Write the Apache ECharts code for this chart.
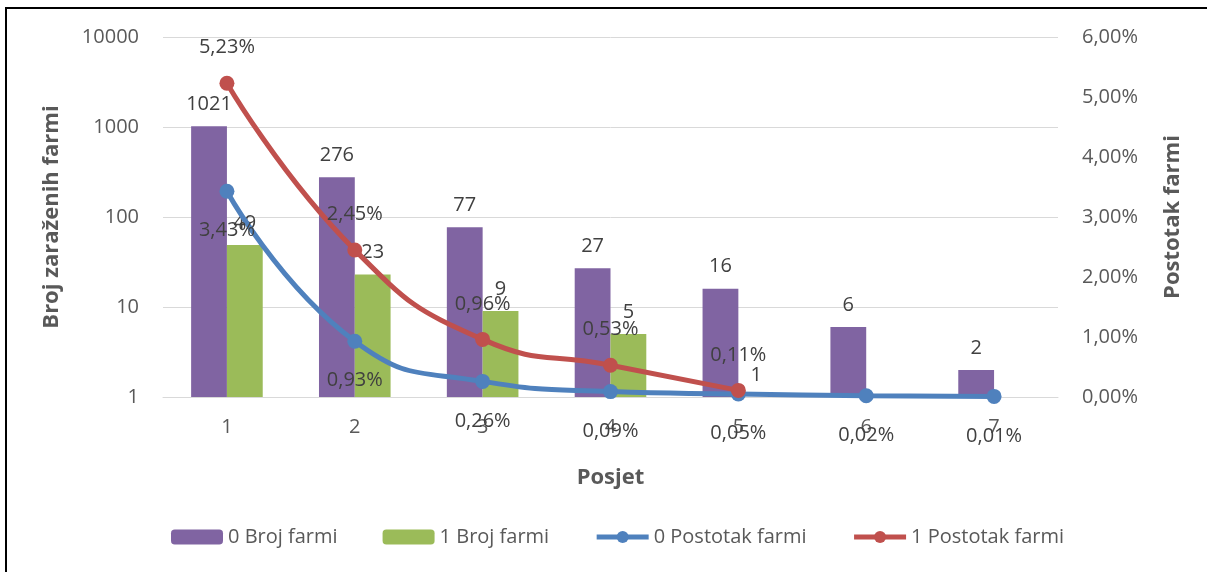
<!DOCTYPE html>
<html>
<head>
<meta charset="utf-8">
<script src="https://cdn.jsdelivr.net/npm/echarts@6/dist/echarts.min.js"></script>
<style>
  html, body { margin: 0; padding: 0; background: #fff; }
  #frame { position: absolute; left: 5px; top: 7px; width: 1210px; height: 580px;
           border-left: 2px solid #000; border-top: 2px solid #000; }
  #chart { position: absolute; left: 0; top: 0; width: 1207px; height: 572px; }
</style>
</head>
<body>
<div id="frame"></div>
<div id="chart"></div>
<script>
var posjet = ["1", "2", "3", "4", "5", "6", "7"];
var broj0 = [1021, 276, 77, 27, 16, 6, 2];
var broj1 = [49, 23, 9, 5, 1, null, null];
var postotak0 = [3.43, 0.93, 0.26, 0.09, 0.05, 0.02, 0.01];
var postotak1 = [5.23, 2.45, 0.96, 0.53, 0.11, null, null];

var FONT = "Open Sans";
var pct = function (v) { return v.toFixed(2).replace(".", ",") + "%"; };

var chart = echarts.init(document.getElementById("chart"));
chart.setOption({
  animation: false,
  textStyle: { fontFamily: FONT },
  grid: { left: 163, right: 149, top: 37, bottom: 175 },
  legend: {
    bottom: 20,
    left: 166,
    itemWidth: 52,
    itemHeight: 15,
    itemGap: 45,
    textStyle: { color: "#595959", fontSize: 20, fontFamily: FONT },
    data: [
      { name: "0 Broj farmi" },
      { name: "1 Broj farmi" },
      { name: "0 Postotak farmi", lineStyle: { width: 5 } },
      { name: "1 Postotak farmi", lineStyle: { width: 5 } }
    ]
  },
  xAxis: {
    type: "category",
    data: posjet,
    name: "Posjet",
    nameLocation: "middle",
    nameGap: 70,
    nameTextStyle: { color: "#595959", fontSize: 22, fontWeight: "bold" },
    axisTick: { show: false },
    axisLine: { lineStyle: { color: "#D9D9D9" } },
    axisLabel: { color: "#595959", fontSize: 20, margin: 20 }
  },
  yAxis: [
    {
      type: "log",
      logBase: 10,
      min: 1,
      max: 10000,
      name: "Broj zaraženih farmi",
      nameLocation: "middle",
      nameGap: 100,
      nameTextStyle: { color: "#595959", fontSize: 22, fontWeight: "bold" },
      axisLine: { show: false },
      axisTick: { show: false },
      axisLabel: { color: "#595959", fontSize: 20, margin: 24, formatter: function (v) { return String(v); } },
      splitLine: { lineStyle: { color: "#D9D9D9", width: 1 } }
    },
    {
      type: "value",
      min: 0,
      max: 6,
      interval: 1,
      name: "Postotak farmi",
      nameLocation: "middle",
      nameGap: 104,
      nameTextStyle: { color: "#595959", fontSize: 22, fontWeight: "bold" },
      axisLine: { show: false },
      axisTick: { show: false },
      axisLabel: { color: "#595959", fontSize: 20, margin: 24, formatter: pct },
      splitLine: { show: false }
    }
  ],
  series: [
    {
      name: "0 Broj farmi",
      type: "bar",
      data: broj0,
      barGap: "0%",
      barCategoryGap: "44%",
      itemStyle: { color: "#8064A2" },
      label: { show: true, position: "top", distance: 12, color: "#404040", fontSize: 20 }
    },
    {
      name: "1 Broj farmi",
      type: "bar",
      data: broj1,
      itemStyle: { color: "#9BBB59" },
      label: { show: true, position: "top", distance: 12, color: "#404040", fontSize: 20 }
    },
    {
      name: "0 Postotak farmi",
      type: "line",
      yAxisIndex: 1,
      data: postotak0,
      smooth: true,
      symbol: "circle",
      symbolSize: 15,
      lineStyle: { color: "#4F81BD", width: 5 },
      itemStyle: { color: "#4F81BD" },
      label: { show: true, position: "bottom", distance: 22, color: "#404040", fontSize: 20, formatter: function (p) { return pct(p.value); } }
    },
    {
      name: "1 Postotak farmi",
      type: "line",
      yAxisIndex: 1,
      data: postotak1,
      smooth: true,
      symbol: "circle",
      symbolSize: 15,
      lineStyle: { color: "#C0504D", width: 5 },
      itemStyle: { color: "#C0504D" },
      label: { show: true, position: "top", distance: 18, color: "#404040", fontSize: 20, formatter: function (p) { return pct(p.value); } }
    }
  ]
});
</script>
</body>
</html>
